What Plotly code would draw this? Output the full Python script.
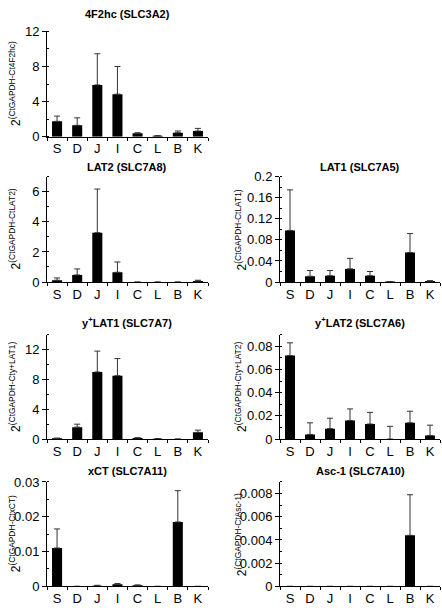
import plotly.graph_objects as go

categories = ["S", "D", "J", "I", "C", "L", "B", "K"]

f4f2hc_vals = [1.75, 1.3, 5.9, 4.85, 0.4, 0.1, 0.45, 0.65]
f4f2hc_errs = [0.6, 0.85, 3.55, 3.15, 0.05, 0.02, 0.2, 0.3]

lat2_vals = [0.12, 0.47, 3.28, 0.65, 0.0, 0.0, 0.0, 0.07]
lat2_errs = [0.15, 0.4, 2.9, 0.68, 0.0, 0.0, 0.0, 0.05]

lat1_vals = [0.098, 0.011, 0.012, 0.025, 0.012, 0.001, 0.056, 0.002]
lat1_errs = [0.077, 0.011, 0.010, 0.020, 0.008, 0.0, 0.036, 0.0005]

ylat1_vals = [0.1, 1.6, 9.0, 8.5, 0.15, 0.05, 0.0, 0.9]
ylat1_errs = [0.02, 0.4, 2.8, 2.3, 0.03, 0.02, 0.0, 0.3]

ylat2_vals = [0.072, 0.004, 0.009, 0.016, 0.013, 0.0, 0.014, 0.003]
ylat2_errs = [0.011, 0.010, 0.009, 0.010, 0.010, 0.011, 0.010, 0.009]

xct_vals = [0.011, 0.0, 0.0002, 0.0006, 0.0003, 0.0, 0.0185, 0.0]
xct_errs = [0.0055, 0.0, 0.0001, 0.0002, 0.0001, 0.0, 0.009, 0.0]

asc1_vals = [0.0, 0.0, 0.0, 0.0, 0.0, 0.0, 0.0044, 0.0]
asc1_errs = [0.0, 0.0, 0.0, 0.0, 0.0, 0.0, 0.0035, 0.0]

titles = ["4F2hc (SLC3A2)", "LAT2 (SLC7A8)", "LAT1 (SLC7A5)",
          "y<sup>+</sup>LAT1 (SLC7A7)", "y<sup>+</sup>LAT2 (SLC7A6)",
          "xCT (SLC7A11)", "Asc-1 (SLC7A10)"]
ylabel_parts = ["4F2hc", "LAT2", "LAT1", "y+LAT1", "y+LAT2", "xCT", "Asc-1"]

tickvals_list = [
    [0, 4, 8, 12],
    [0, 2, 4, 6],
    [0, 0.04, 0.08, 0.12, 0.16, 0.2],
    [0, 4, 8, 12],
    [0, 0.02, 0.04, 0.06, 0.08],
    [0, 0.01, 0.02, 0.03],
    [0, 0.002, 0.004, 0.006, 0.008],
]
ticktext_list = [
    ["0", "4", "8", "12"],
    ["0", "2", "4", "6"],
    ["0", "0.04", "0.08", "0.12", "0.16", "0.2"],
    ["0", "4", "8", "12"],
    ["0", "0.02", "0.04", "0.06", "0.08"],
    ["0", "0.01", "0.02", "0.03"],
    ["0", "0.002", "0.004", "0.006", "0.008"],
]
yranges = [[0, 12], [0, 7], [0, 0.2], [0, 14], [0, 0.09], [0, 0.03], [0, 0.009]]
minor_dticks = [2, 1, 0.02, 2, 0.01, 0.005, 0.001]

values = [f4f2hc_vals, lat2_vals, lat1_vals, ylat1_vals, ylat2_vals, xct_vals, asc1_vals]
errors = [f4f2hc_errs, lat2_errs, lat1_errs, ylat1_errs, ylat2_errs, xct_errs, asc1_errs]

W, H = 442, 608
# layout (pixels)
cols_px = {"L": (47, 208), "R": (280, 440)}
rows_px = [(25, 133), (174, 282), (336, 443), (487, 594)]
title_y_px = [7, 164, 323, 476]
ylab_x_px = {"L": 15, "R": 241}
panel_pos = [("L", 0), ("L", 1), ("R", 1), ("L", 2), ("R", 2), ("L", 3), ("R", 3)]

FONT = "Liberation Sans, Arial, sans-serif"
fig = go.Figure()
annotations = []
layout_axes = {}

for i in range(7):
    col, row = panel_pos[i]
    n = i + 1
    xs = "x" if n == 1 else f"x{n}"
    ys = "y" if n == 1 else f"y{n}"
    fig.add_trace(go.Bar(
        x=categories, y=values[i], xaxis=xs, yaxis=ys,
        marker=dict(color="black", line=dict(width=0)),
        width=0.5,
        error_y=dict(type="data", array=errors[i], arrayminus=[0] * 8,
                     symmetric=False, color="#333333", thickness=1, width=3),
        showlegend=False,
    ))
    x0, x1 = cols_px[col]
    top, bot = rows_px[row]
    xd = [x0 / W, x1 / W]
    yd = [1 - bot / H, 1 - top / H]
    xkey = "xaxis" if n == 1 else f"xaxis{n}"
    ykey = "yaxis" if n == 1 else f"yaxis{n}"
    layout_axes[xkey] = dict(
        domain=xd, anchor=ys, type="category", range=[-0.5, 7.5],
        showline=True, linecolor="black", linewidth=1, showgrid=False,
        ticks="outside", ticklen=3, tickcolor="black", tickson="boundaries",
        tickfont=dict(family=FONT, size=13, color="black"),
        zeroline=False, fixedrange=True,
    )
    layout_axes[ykey] = dict(
        domain=yd, anchor=xs, range=yranges[i],
        tickvals=tickvals_list[i], ticktext=ticktext_list[i],
        showline=True, linecolor="black", linewidth=1, showgrid=False,
        ticks="outside", ticklen=4, tickcolor="black",
        minor=dict(ticks="inside", ticklen=2, dtick=minor_dticks[i], tickcolor="black", showgrid=False),
        tickfont=dict(family=FONT, size=13, color="black"),
        zeroline=False, fixedrange=True,
    )
    annotations.append(dict(
        text=f"<b>{titles[i]}</b>", xref="paper", yref="paper",
        x=(x0 + x1) / 2 / W, y=1 - title_y_px[row] / H,
        xanchor="center", yanchor="middle", showarrow=False,
        font=dict(family=FONT, size=11, color="black"),
    ))
    annotations.append(dict(
        text=f"2<sup>(CtGAPDH-Ct{ylabel_parts[i]})</sup>",
        xref="paper", yref="paper",
        x=ylab_x_px[col] / W, y=1 - (top + bot) / 2 / H,
        xanchor="center", yanchor="middle", textangle=-90, showarrow=False,
        font=dict(family=FONT, size=12, color="black"),
    ))

fig.update_layout(
    width=W, height=H,
    margin=dict(l=0, r=0, t=0, b=0),
    paper_bgcolor="white", plot_bgcolor="white",
    annotations=annotations,
    bargap=0.5,
    **layout_axes,
)

fig.write_html(
    "out.html",
    config={"displayModeBar": False, "staticPlot": True},
    post_script="document.body.style.margin='0';document.body.style.overflow='hidden';",
)
